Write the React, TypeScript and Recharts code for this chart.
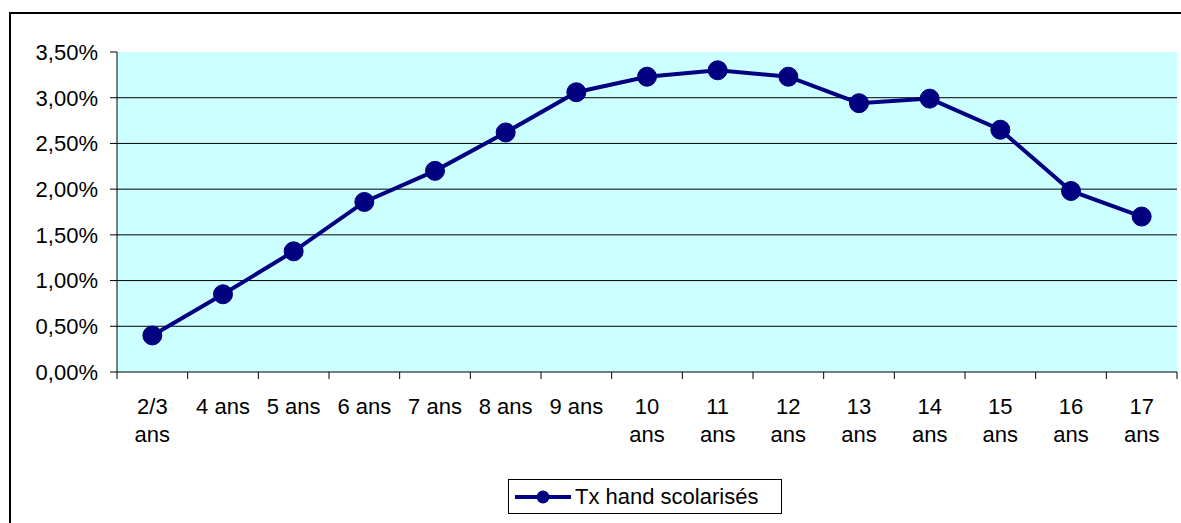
import { CartesianGrid, Legend, Line, LineChart, XAxis, YAxis } from 'recharts';

const ages = [
    '2/3 ans', '4 ans', '5 ans', '6 ans', '7 ans', '8 ans', '9 ans', '10 ans',
    '11 ans', '12 ans', '13 ans', '14 ans', '15 ans', '16 ans', '17 ans',
];
const rates = [0.4, 0.85, 1.32, 1.86, 2.2, 2.62, 3.06, 3.23, 3.3, 3.23, 2.94, 2.99, 2.65, 1.98, 1.7];
const yTicks = [0, 0.5, 1, 1.5, 2, 2.5, 3, 3.5];
const gridValues = [0.5, 1, 1.5, 2, 2.5, 3];
const seriesName = 'Tx hand scolarisés';

const data = ages.map((age, i) => ({ age, rate: rates[i] }));

const NAVY = '#000080';
const FONT = '"Liberation Sans", Arial, sans-serif';

const formatPct = (v: number) => v.toFixed(2).replace('.', ',') + '%';

const XTick = (props: any) => {
    const { x, y, payload, index, visibleTicksCount, width } = props;
    const half = payload?.offset || width / visibleTicksCount / 2;
    const words = String(payload.value).split(' ');
    const wrap = words[0].length >= 2;
    const isLast = index === visibleTicksCount - 1;
    return (
        <g>
            <line x1={x - half} x2={x - half} y1={y} y2={y + 7} stroke="#000" />
            {isLast && <line x1={x + half} x2={x + half} y1={y} y2={y + 7} stroke="#000" />}
            <text x={x} y={y + 42} textAnchor="middle" fill="#000" fontSize={22} fontFamily={FONT}>
                {wrap ? (
                    <>
                        <tspan x={x}>{words[0]}</tspan>
                        <tspan x={x} dy={28}>{words.slice(1).join(' ')}</tspan>
                    </>
                ) : (
                    payload.value
                )}
            </text>
        </g>
    );
};

const LegendBox = () => (
    <div
        style={{
            width: 272,
            height: 33,
            border: '1px solid #000',
            background: '#fff',
            display: 'flex',
            alignItems: 'center',
            fontFamily: FONT,
            fontSize: 22,
            color: '#000',
        }}
    >
        <svg width={66} height={33}>
            <line x1={6} x2={62} y1={17} y2={17} stroke={NAVY} strokeWidth={4} />
            <circle cx={34} cy={17} r={6.5} fill={NAVY} />
        </svg>
        <span>{seriesName}</span>
    </div>
);

const App = () => {
    return (
        <div style={{ position: 'fixed', left: 0, top: 0, width: 1181, height: 523, overflow: 'hidden', background: '#fff' }}>
            <div
                style={{
                    position: 'absolute',
                    left: 9,
                    top: 12,
                    width: 1300,
                    height: 700,
                    border: '2px solid #000',
                }}
            />
            <div style={{ position: 'absolute', left: 0, top: 0 }}>
                <LineChart
                    width={1181}
                    height={523}
                    data={data}
                    margin={{ top: 52, left: 17, right: 4, bottom: 91 }}
                >
                    <CartesianGrid
                        vertical={false}
                        horizontalValues={gridValues}
                        stroke="#000"
                        fill="#CCFFFF"
                        fillOpacity={1}
                    />
                    <XAxis
                        dataKey="age"
                        scale="band"
                        height={60}
                        stroke="#000"
                        tickLine={false}
                        tickSize={0}
                        tickMargin={0}
                        interval={0}
                        tick={<XTick />}
                    />
                    <YAxis
                        width={100}
                        domain={[0, 3.5]}
                        ticks={yTicks}
                        interval={0}
                        stroke="#000"
                        tickSize={7}
                        tickMargin={12}
                        tickFormatter={formatPct}
                        tick={{ fill: '#000', fontSize: 22, fontFamily: FONT }}
                    />
                    <Legend
                        layout="horizontal"
                        verticalAlign="middle"
                        align="center"
                        content={<LegendBox />}
                        wrapperStyle={{ left: 508, top: 479, width: 274 }}
                    />
                    <Line
                        type="linear"
                        dataKey="rate"
                        name={seriesName}
                        stroke={NAVY}
                        strokeWidth={4}
                        dot={{ r: 9.5, fill: NAVY, stroke: NAVY, strokeWidth: 1 }}
                        activeDot={false}
                        isAnimationActive={false}
                    />
                </LineChart>
            </div>
        </div>
    );
};

export default App;
